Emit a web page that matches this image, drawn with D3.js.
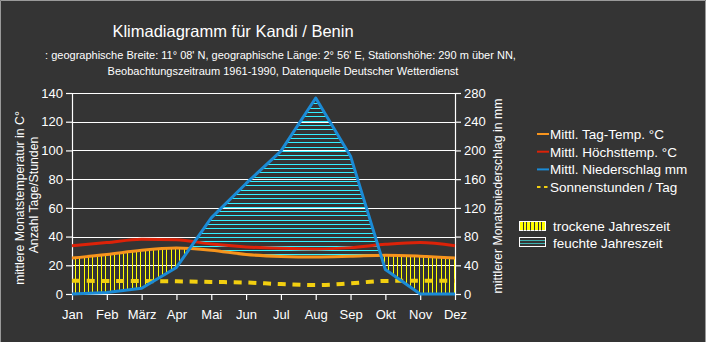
<!DOCTYPE html>
<html><head><meta charset="utf-8">
<script src="https://cdn.jsdelivr.net/npm/d3@7"></script>
<style>
html,body{margin:0;padding:0;background:#343434;}
svg{display:block;font-family:"Liberation Sans",Arial,sans-serif;}
</style></head>
<body>
<svg id="chart" width="706" height="342"></svg>
<script>
const months = ["Jan","Feb","März","Apr","Mai","Jun","Jul","Aug","Sep","Okt","Nov","Dez"];
const tempMean = [25, 27.5, 30.5, 32, 30.5, 27.5, 26.2, 25.8, 26.3, 27, 26.3, 25];
const tempMax = [33.6, 35.8, 38.2, 37.8, 34.8, 32.8, 31.8, 31.4, 32.3, 34.6, 35.8, 33.6];
const precip = [0, 2, 8, 37, 106, 154, 199, 273, 192, 34, 0, 0];
const sunHours = [9.2, 9.1, 9.0, 8.8, 8.4, 8.0, 6.9, 6.2, 7.4, 9.1, 9.2, 9.2];
const leftTicks = [0, 20, 40, 60, 80, 100, 120, 140];
const rightTicks = [0, 40, 80, 120, 160, 200, 240, 280];
const legendItems = ["Mittl. Tag-Temp. °C", "Mittl. Höchsttemp. °C", "Mittl. Niederschlag mm", "Sonnenstunden / Tag"];
const seasonItems = ["trockene Jahreszeit", "feuchte Jahreszeit"];
const titleText = "Klimadiagramm für Kandi / Benin";
const subLines = [":  geographische Breite: 11° 08' N, geographische Länge: 2° 56' E, Stationshöhe: 290 m über NN,",
                  "Beobachtungszeitraum 1961-1990, Datenquelle Deutscher Wetterdienst"];

const W = 706, H = 342;
const L = 72, R = 455, T = 93, B = 294;
const C = {bg:"#343434", red:"#dc2208", orange:"#f7941d", blue:"#1b8bd6", sun:"#f2cf10", yel:"#ffff00", cyan:"#33f0ff", txt:"#ffffff"};

const svg = d3.select("#chart");
svg.append("rect").attr("width", W).attr("height", H).attr("fill", C.bg);
svg.append("path").attr("d", `M0.5,${H}V0.5H${W-0.5}V${H}`).attr("fill","none").attr("stroke","#9a9a9a");

const x = d3.scalePoint().domain(months).range([L, R]);
const yL = d3.scaleLinear().domain([0, 140]).range([B, T]);
const yR = d3.scaleLinear().domain([0, 280]).range([B, T]);

// title
svg.append("text").attr("x", 233).attr("y", 36.5).attr("text-anchor","middle")
  .attr("font-size", 16.5).attr("fill", C.txt).text(titleText);
subLines.forEach((s,i)=>{
  svg.append("text").attr("x", i===0?280.5:283).attr("y", 59 + i*15.5).attr("text-anchor","middle")
    .attr("font-size", 11).attr("fill", C.txt).text(s);
});

// grid
const grid = svg.append("g");
grid.selectAll("line").data(leftTicks.filter(d=>d>0)).join("line")
  .attr("x1", L).attr("x2", R).attr("y1", d=>Math.round(yL(d))+0.5).attr("y2", d=>Math.round(yL(d))+0.5)
  .attr("stroke","#ffffff").attr("stroke-width",1.2);

// clip paths
const defs = svg.append("defs");
const areaUnder = (fn, curve) => d3.area().x(d=>x(d.m)).y0(B+6).y1(d=>fn(d)).curve(curve);
const areaAbove = (fn, curve) => d3.area().x(d=>x(d.m)).y0(T-10).y1(d=>fn(d)).curve(curve);
const rows = months.map((m,i)=>({m, mean:tempMean[i], max:tempMax[i], p:precip[i], s:sunHours[i]}));
const clips = [
  ["underOrange", areaUnder(d=>yL(d.mean), d3.curveMonotoneX)],
  ["aboveOrange", areaAbove(d=>yL(d.mean), d3.curveMonotoneX)],
  ["underBlue", areaUnder(d=>yR(d.p), d3.curveLinear)],
  ["aboveBlue", areaAbove(d=>yR(d.p), d3.curveLinear)]
];
clips.forEach(([id, gen])=>{
  defs.append("clipPath").attr("id", id).append("path").attr("d", gen(rows));
});

// dry season hatch (vertical yellow)
const dry = svg.append("g").attr("clip-path","url(#underOrange)").append("g").attr("clip-path","url(#aboveBlue)");
const step = (R - L) / 11 / 8;
dry.selectAll("line").data(d3.range(0, 89)).join("line")
  .attr("x1", i=>Math.round(L + 3 + i*step)+0.5).attr("x2", i=>Math.round(L + 3 + i*step)+0.5).attr("y1", T).attr("y2", B)
  .attr("stroke", C.yel).attr("stroke-width", 1).attr("shape-rendering","crispEdges");

// wet season hatch (horizontal cyan)
const wet = svg.append("g").attr("clip-path","url(#underBlue)").append("g").attr("clip-path","url(#aboveOrange)");
const hstep = (B - T) / 140 * 3;
wet.selectAll("line").data(d3.range(0, 48)).join("line")
  .attr("x1", L).attr("x2", R).attr("y1", i=>Math.round(B - 1 - i*hstep)+0.5).attr("y2", i=>Math.round(B - 1 - i*hstep)+0.5)
  .attr("stroke", C.cyan).attr("stroke-width", 1).attr("shape-rendering","crispEdges");

// axes
const axL = svg.append("g").attr("transform",`translate(${L},0)`)
  .call(d3.axisLeft(yL).tickValues(leftTicks).tickSize(6).tickSizeOuter(0).tickPadding(3));
const axR = svg.append("g").attr("transform",`translate(${R},0)`)
  .call(d3.axisRight(yR).tickValues(rightTicks).tickSize(6).tickSizeOuter(0).tickPadding(3));
const axB = svg.append("g").attr("transform",`translate(0,${B})`)
  .call(d3.axisBottom(x).tickSize(6).tickSizeOuter(0).tickPadding(10));
[axL, axR, axB].forEach(a=>{
  a.selectAll("path,line").attr("stroke","#ffffff").attr("stroke-width",1.2);
  a.selectAll("text").attr("fill", C.txt).attr("font-size", 13).attr("font-family","Liberation Sans, Arial, sans-serif");
});

// lines
const lineT = (key) => d3.line().x(d=>x(d.m)).y(d=>yL(d[key])).curve(d3.curveMonotoneX);
svg.append("path").attr("d", lineT("s")(rows)).attr("fill","none").attr("stroke", C.sun)
  .attr("stroke-width", 4).attr("stroke-dasharray","8,6.7");
svg.append("path").attr("d", lineT("max")(rows)).attr("fill","none").attr("stroke", C.red).attr("stroke-width", 3);
svg.append("path").attr("d", lineT("mean")(rows)).attr("fill","none").attr("stroke", C.orange).attr("stroke-width", 3);
svg.append("path").attr("d", d3.line().x(d=>x(d.m)).y(d=>yR(d.p))(rows)).attr("fill","none")
  .attr("stroke", C.blue).attr("stroke-width", 3).attr("stroke-linejoin","round");

// axis titles
svg.append("text").attr("transform","translate(20,198) rotate(-90)").attr("text-anchor","middle")
  .attr("dominant-baseline","central").attr("font-size",12.3).attr("fill",C.txt).text("mittlere Monatstemperatur in C°");
svg.append("text").attr("transform","translate(34,195) rotate(-90)").attr("text-anchor","middle")
  .attr("dominant-baseline","central").attr("font-size",12.3).attr("fill",C.txt).text("Anzahl Tage/Stunden");
svg.append("text").attr("transform","translate(498,196) rotate(-90)").attr("text-anchor","middle")
  .attr("dominant-baseline","central").attr("font-size",12.3).attr("fill",C.txt).text("mittlerer Monatsniederschlag in mm");

// legend
const lg = svg.append("g");
const lcol = [C.orange, C.red, C.blue, C.sun];
legendItems.forEach((t,i)=>{
  const yy = 134 + i*17.7;
  const ln = lg.append("line").attr("x1",537).attr("x2",549).attr("y1",yy).attr("y2",yy)
    .attr("stroke", lcol[i]).attr("stroke-width", 2);
  if(i===3) ln.attr("stroke-dasharray","3.5,3.5");
  lg.append("text").attr("x",550).attr("y",yy).attr("dy","0.36em").attr("font-size",13.5)
    .attr("fill",C.txt).text(t);
});
// season boxes
const bx = 519, bw = 26, bh = 9;
lg.append("rect").attr("x",bx+0.5).attr("y",221.5).attr("width",bw).attr("height",bh)
  .attr("fill",C.yel).attr("stroke","#ffffff");
lg.selectAll(".vl").data(d3.range(1,7)).join("line").attr("class","vl")
  .attr("x1",i=>Math.round(bx+i*3.7)+0.5).attr("x2",i=>Math.round(bx+i*3.7)+0.5).attr("y1",222).attr("y2",230.5)
  .attr("stroke","#333").attr("stroke-width",1);
lg.append("rect").attr("x",bx+0.5).attr("y",237.5).attr("width",bw).attr("height",bh)
  .attr("fill",C.bg).attr("stroke","#ffffff");
[240.5, 243.5].forEach(yy=>{
  lg.append("line").attr("x1",bx+1).attr("x2",bx+bw).attr("y1",yy).attr("y2",yy)
    .attr("stroke","#3fb0b0").attr("stroke-width",1);
});
seasonItems.forEach((t,i)=>{
  lg.append("text").attr("x",553).attr("y",226 + i*17).attr("dy","0.36em").attr("font-size",13.5)
    .attr("fill",C.txt).text(t);
});
</script>
</body></html>
